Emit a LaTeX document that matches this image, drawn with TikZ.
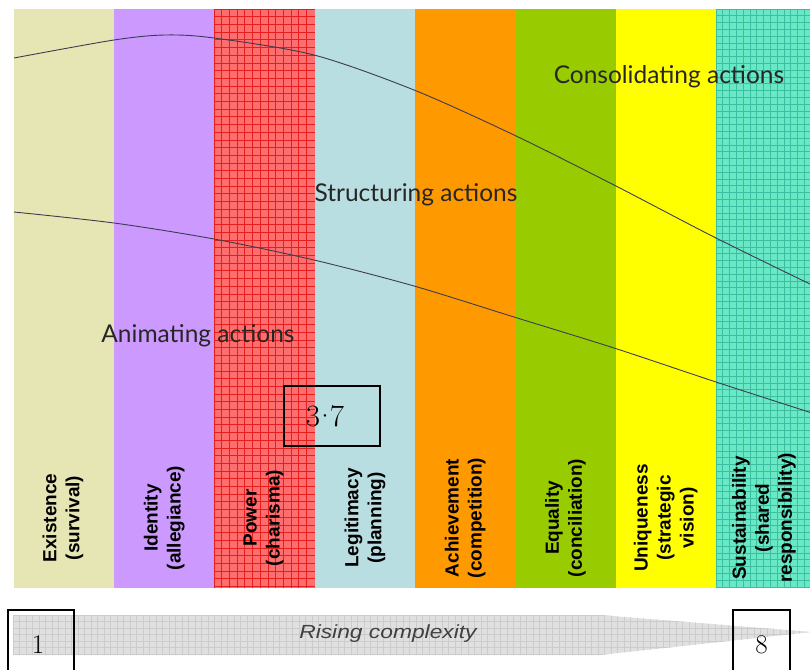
\documentclass[tikz,border=0pt]{standalone}
\usepackage{fontspec}
\newfontfamily\stagefont{Liberation Sans}
\newfontfamily\actionfont{Lato}
\definecolor{existcol}{RGB}{230,230,180}
\definecolor{identcol}{RGB}{204,153,255}
\definecolor{powercol}{RGB}{255,110,110}
\definecolor{powerline}{RGB}{230,30,30}
\definecolor{legitcol}{RGB}{185,222,225}
\definecolor{achievecol}{RGB}{255,153,0}
\definecolor{equalcol}{RGB}{153,204,0}
\definecolor{uniquecol}{RGB}{255,255,0}
\definecolor{sustaincol}{RGB}{105,232,198}
\definecolor{sustainline}{RGB}{60,190,160}
\definecolor{curvecol}{RGB}{60,60,80}
\tikzset{
    stagelabel/.style = {
        align=center,
        font=\stagefont\bfseries\fontsize{19}{23}\selectfont,
        rotate=90,
        inner sep=0pt
    },
    actionlabel/.style = {
        font=\actionfont\fontsize{24.5}{28}\selectfont,
        text=black!85,
        inner sep=0pt
    },
    valuebox/.style = {
        draw=black,
        line width=2.5pt,
        rectangle,
        inner sep=0pt
    },
    curve/.style = {
        draw=curvecol,
        line width=0.9pt
    }
}

\begin{document}
\begin{tikzpicture}[x=1pt,y=-1pt]
    \useasboundingbox (0,0) rectangle (810,669);
    % value stages
    \foreach \i/\col in {0/existcol,1/identcol,2/powercol,3/legitcol,4/achievecol,5/equalcol,6/uniquecol,7/sustaincol}
        \fill[\col] (14+100.3*\i,9) rectangle (14+100.3*\i+100.3,588);
    % grids on power and sustainability
    \foreach \gx in {214,221.7,...,314}
        \draw[powerline, line width=0.8pt] (\gx,9) -- (\gx,588);
    \foreach \gy in {9,16.7,...,588}
        \draw[powerline, line width=0.8pt] (214,\gy) -- (314.6,\gy);
    \foreach \gx in {716,722.8,...,812}
        \draw[sustainline, line width=0.7pt] (\gx,9) -- (\gx,588);
    \foreach \gy in {9,15.8,...,588}
        \draw[sustainline, line width=0.7pt] (716.1,\gy) -- (812,\gy);
    % complexity arrow
    \fill[black!12] (13,615) -- (600,615) -- (812,632) -- (600,655) -- (13,655) -- cycle;
    \begin{scope}
        \clip (13,615) -- (600,615) -- (812,632) -- (600,655) -- (13,655) -- cycle;
        \foreach \gx in {13,19.5,...,812}
            \draw[black!20, line width=0.6pt] (\gx,610) -- (\gx,660);
        \foreach \gy in {615,621.5,...,656}
            \draw[black!20, line width=0.6pt] (13,\gy) -- (812,\gy);
    \end{scope}
    \node[font=\stagefont\itshape\fontsize{19}{22}\selectfont, text=black!75, xscale=1.2, transform shape] (rising) at (388,634) {Rising complexity};
    % curves
    \draw[curve] plot[smooth] coordinates {(14,58) (114,40) (165,35) (214,38) (314,55) (414,90) (514,135) (614,185) (714,237) (812,285)};
    \draw[curve] plot[smooth] coordinates {(14,212) (114,223) (214,239) (314,260) (414,286) (514,317) (614,348) (716,382) (812,413)};
    % action labels
    \node[actionlabel] (consolidating) at (669,77) {Consolidating actions};
    \node[actionlabel] (structuring) at (416,195) {Structuring actions};
    \node[actionlabel] (animating) at (198,336) {Animating actions};
    % stage labels
    \node[stagelabel] (existence) at (63,518) {Existence\\(survival)};
    \node[stagelabel] (identity) at (164.3,518) {Identity\\(allegiance)};
    \node[stagelabel] (power) at (263.6,518) {Power\\(charisma)};
    \node[stagelabel] (legitimacy) at (364.9,518) {Legitimacy\\(planning)};
    \node[stagelabel] (achievement) at (465.2,518) {Achievement\\(competition)};
    \node[stagelabel] (equality) at (565.5,518) {Equality\\(conciliation)};
    \node[stagelabel] (uniqueness) at (665.8,518) {Uniqueness\\(strategic\\vision)};
    \node[stagelabel] (sustainability) at (764,518) {Sustainability\\(shared\\responsibility)};
    % value boxes
    \node[valuebox, minimum width=96pt, minimum height=60pt, font=\fontsize{31}{33}\selectfont] (midvalue) at (332,416) {3\kern-0.2em·\kern-0.2em7\hspace*{14pt}};
    \node[valuebox, minimum width=66pt, minimum height=70pt, font=\fontsize{27}{30}\selectfont] (lowvalue) at (41,645) {1\hspace*{6pt}};
    \node[valuebox, minimum width=57pt, minimum height=70pt, font=\fontsize{27}{30}\selectfont] (highvalue) at (761.5,645) {8};
\end{tikzpicture}
\end{document}
